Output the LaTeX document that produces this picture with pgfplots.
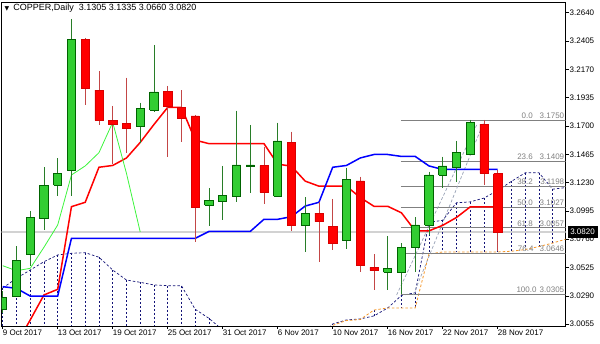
\documentclass[border=0pt]{standalone}
\usepackage{pgfplots}
\pgfplotsset{compat=1.18}
\usepackage{fontspec}
\setmainfont{Liberation Sans}
\newfontfamily\symf{DejaVu Sans}

\definecolor{gfill}{RGB}{50,205,50}
\definecolor{gedge}{RGB}{0,100,0}
\definecolor{gwickc}{RGB}{40,125,40}
\definecolor{rfill}{RGB}{255,0,0}
\definecolor{rwickc}{RGB}{195,70,70}
\definecolor{navyc}{RGB}{20,20,120}
\definecolor{sandy}{RGB}{245,150,40}
\definecolor{fibgray}{RGB}{128,128,128}
\definecolor{pricegray}{RGB}{210,210,210}
\definecolor{chik}{RGB}{60,245,60}
\definecolor{fibdiag}{RGB}{150,160,180}

\pgfplotsset{
  gwick/.style={gwickc, line width=0.9pt},
  rwick/.style={rwickc, line width=0.9pt},
  gbody/.style={fill=gfill, draw=gedge, line width=0.8pt},
  rbody/.style={fill=rfill, draw=rfill!85!black, line width=0.5pt},
  hatch/.style={navyc, line width=0.7pt, dash pattern=on 2pt off 2pt, unbounded coords=jump},
  fibline/.style={fibgray, line width=0.8pt},
}
\tikzset{fiblab/.style={anchor=south east, inner sep=0pt, text=fibgray, font=\fontsize{8}{9}\selectfont, yshift=1.2pt}}

\newcommand{\candle}[6]{%
  \pgfmathsetmacro{\xl}{#1-0.3}%
  \pgfmathsetmacro{\xr}{#1+0.3}%
  \edef\temp{\noexpand\addplot[#6wick] coordinates {(#1,#3) (#1,#4)};%
  \noexpand\addplot[#6body] coordinates {(\xl,#2) (\xr,#2) (\xr,#5) (\xl,#5) (\xl,#2)};}%
  \temp}

\begin{document}
\begin{tikzpicture}[x=1pt,y=1pt]
\path[use as bounding box] (0,0) rectangle (600,343);
\begin{axis}[
  at={(1.5pt,17pt)}, anchor=south west, scale only axis,
  width=564pt, height=324pt,
  xmin=-0.0873, xmax=40.931, ymin=3.00394, ymax=3.27288,
  axis line style={black, line width=0.8pt},
  xtick={0,4,8,12,16,20,24,28,32,36},
  xticklabels={9 Oct 2017,13 Oct 2017,19 Oct 2017,25 Oct 2017,31 Oct 2017,6 Nov 2017,10 Nov 2017,16 Nov 2017,22 Nov 2017,28 Nov 2017},
  xtick pos=left, ytick pos=right, tick align=outside,
  major tick length=3pt, tick style={black, line width=0.6pt},
  ytick={3.0055,3.0290,3.0525,3.0760,3.0995,3.1230,3.1465,3.1700,3.1935,3.2170,3.2405,3.2640},
  yticklabels={3.0055,3.0290,3.0525,3.0760,3.0995,3.1230,3.1465,3.1700,3.1935,3.2170,3.2405,3.2640},
  yticklabel pos=right,
  yticklabel style={anchor=west, inner sep=0pt, xshift=1pt, font=\fontsize{8}{9}\selectfont},
  xticklabel style={anchor=north west, inner sep=0pt, xshift=0pt, yshift=-1pt, font=\fontsize{8}{9}\selectfont},
]
% price line
\addplot[pricegray, line width=1.3pt] coordinates {(-1,3.0820) (42,3.0820)};

% cloud hatching, left part (lower span below the plot)
\addplot[hatch] coordinates {
(0,3.0355) (0,2.95) (0,nan)
(1,3.0435) (1,2.95) (1,nan)
(2,3.0504) (2,2.95) (2,nan)
(3,3.0573) (3,2.95) (3,nan)
(4,3.0629) (4,2.95) (4,nan)
(5,3.0643) (5,2.95) (5,nan)
(6,3.0648) (6,2.95) (6,nan)
(7,3.0610) (7,2.95) (7,nan)
(8,3.0504) (8,2.95) (8,nan)
(9,3.0421) (9,2.95) (9,nan)
(10,3.0402) (10,2.95) (10,nan)
(11,3.0380) (11,2.95) (11,nan)
(12,3.0374) (12,2.95) (12,nan)
(13,3.0374) (13,2.95) (13,nan)
(14,3.0178) (14,2.95) (14,nan)
(15,3.0103) (15,2.95) (15,nan)
};
% cloud hatching, right part
\addplot[hatch] coordinates {
(24,3.0056) (24,3.0045) (24,nan)
(25,3.0090) (25,3.0085) (25,nan)
(26,3.0098) (26,3.0093) (26,nan)
(27,3.0123) (27,3.0172) (27,nan)
(29,3.0293) (29,3.0189) (29,nan)
(30,3.0316) (30,3.0189) (30,nan)
(31,3.0899) (31,3.0637) (31,nan)
(32,3.0917) (32,3.0654) (32,nan)
(33,3.1062) (33,3.0654) (33,nan)
(34,3.1070) (34,3.0654) (34,nan)
(35,3.1101) (35,3.0654) (35,nan)
(36,3.1165) (36,3.0654) (36,nan)
(37,3.1240) (37,3.0660) (37,nan)
(38,3.1311) (38,3.0674) (38,nan)
(39,3.1311) (39,3.0699) (39,nan)
(40,3.1175) (40,3.0728) (40,nan)
(41,3.1189) (41,3.0762) (41,nan)
};
% span lines
\addplot[navyc, line width=0.7pt, dash pattern=on 2.5pt off 2pt] coordinates {
(0,3.0355) (1,3.0435) (2,3.0504) (3,3.0573) (4,3.0629) (5,3.0643) (6,3.0648) (7,3.0610) (8,3.0504) (9,3.0421) (10,3.0402) (11,3.0380) (12,3.0374) (13,3.0374) (14,3.0178) (15,3.0103) (16,3.0006) (17,2.9900)};
\addplot[navyc, line width=0.7pt, dash pattern=on 2.5pt off 2pt] coordinates {
(23,2.9950) (24,3.0056) (25,3.0090) (26,3.0098) (27,3.0123) (28,3.0189) (29,3.0293) (30,3.0316) (31,3.0899) (32,3.0917) (33,3.1062) (34,3.1070) (35,3.1101) (36,3.1165) (37,3.1240) (38,3.1311) (39,3.1311) (40,3.1175) (41,3.1189)};
\addplot[sandy, line width=0.8pt, dash pattern=on 2.5pt off 2pt] coordinates {
(23,2.9950) (24,3.0045) (25,3.0085) (26,3.0093) (27,3.0172) (28,3.0189) (29,3.0189) (30,3.0189) (31,3.0637) (32,3.0654) (33,3.0654) (34,3.0654) (35,3.0654) (36,3.0654) (37,3.0660) (38,3.0674) (39,3.0699) (40,3.0728) (41,3.0762)};

% fibonacci
\addplot[fibline] coordinates {(28.95,3.1750) (42,3.1750)};
\addplot[fibline] coordinates {(28.95,3.1409) (42,3.1409)};
\addplot[fibline] coordinates {(28.95,3.1198) (42,3.1198)};
\addplot[fibline] coordinates {(28.95,3.1027) (42,3.1027)};
\addplot[fibline] coordinates {(28.95,3.0857) (42,3.0857)};
\addplot[fibline] coordinates {(28.95,3.0646) (42,3.0646)};
\addplot[fibline] coordinates {(28.95,3.0305) (42,3.0305)};
\addplot[fibdiag, line width=0.7pt, dash pattern=on 3pt off 2pt] coordinates {(28.65,3.0297) (34.47,3.1708)};
\addplot[fibdiag, line width=0.7pt, dash pattern=on 3pt off 2pt] coordinates {(29.86,3.0297) (34.95,3.1722)};

% tenkan-sen
\addplot[red, line width=1.5pt] coordinates {
(1,2.9890) (2,3.0089) (3,3.0297) (4,3.0344) (5,3.1030) (6,3.1066) (7,3.1357) (8,3.1372) (9,3.1434) (10,3.1563) (11,3.1712) (12,3.1854) (13,3.1854) (14,3.1582) (15,3.1553) (16,3.1553) (17,3.1553) (18,3.1553) (19,3.1553) (20,3.1383) (21,3.1366) (22,3.1242) (23,3.1200) (24,3.1200) (25,3.1200) (26,3.1106) (27,3.1033) (28,3.1033) (29,3.0979) (30,3.0829) (31,3.0829) (32,3.0875) (33,3.0940) (34,3.1028) (35,3.1028) (36,3.1028)};
% kijun-sen
\addplot[blue, line width=1.5pt] coordinates {
(0,3.0366) (1,3.0352) (2,3.0288) (3,3.0288) (4,3.0288) (5,3.0767) (6,3.0767) (7,3.0767) (8,3.0767) (9,3.0767) (10,3.0767) (11,3.0767) (12,3.0767) (13,3.0767) (14,3.0767) (15,3.0824) (16,3.0824) (17,3.0824) (18,3.0824) (19,3.0925) (20,3.0925) (21,3.0947) (22,3.1035) (23,3.1066) (24,3.1357) (25,3.1372) (26,3.1434) (27,3.1463) (28,3.1463) (29,3.1447) (30,3.1447) (31,3.1368) (32,3.1339) (33,3.1339) (34,3.1339) (35,3.1339) (36,3.1339)};
% chikou span
\addplot[chik, line width=0.8pt] coordinates {
(0,3.0540) (1,3.0498) (2,3.0518) (3,3.0693) (4,3.0878) (5,3.1293) (6,3.1368) (7,3.1478) (8,3.1730) (9,3.1307) (10,3.0820)};

% candles: index, open, high, low, close
\candle{0}{3.0178}{3.0330}{3.0150}{3.0278}{g}
\candle{1}{3.0288}{3.0703}{3.0280}{3.0581}{g}
\candle{2}{3.0637}{3.0994}{3.0537}{3.0942}{g}
\candle{3}{3.0930}{3.1357}{3.0836}{3.1207}{g}
\candle{4}{3.1210}{3.1431}{3.1119}{3.1307}{g}
\candle{5}{3.1332}{3.2588}{3.1119}{3.2419}{g}
\candle{6}{3.2419}{3.2430}{3.1874}{3.2013}{r}
\candle{7}{3.1998}{3.2156}{3.1708}{3.1747}{r}
\candle{8}{3.1749}{3.1866}{3.1384}{3.1714}{r}
\candle{9}{3.1722}{3.2101}{3.1475}{3.1680}{r}
\candle{10}{3.1694}{3.1893}{3.1556}{3.1846}{g}
\candle{11}{3.1832}{3.2372}{3.1818}{3.1982}{g}
\candle{12}{3.1990}{3.2032}{3.1440}{3.1860}{r}
\candle{13}{3.1855}{3.1998}{3.1569}{3.1763}{r}
\candle{14}{3.1783}{3.1791}{3.0734}{3.1021}{r}
\candle{15}{3.1041}{3.1182}{3.0872}{3.1085}{g}
\candle{16}{3.1071}{3.1368}{3.0919}{3.1121}{g}
\candle{17}{3.1113}{3.1827}{3.1071}{3.1376}{g}
\candle{18}{3.1362}{3.1708}{3.1141}{3.1376}{g}
\candle{19}{3.1370}{3.1528}{3.1050}{3.1149}{r}
\candle{20}{3.1119}{3.1727}{3.1108}{3.1575}{g}
\candle{21}{3.1564}{3.1652}{3.0830}{3.0872}{r}
\candle{22}{3.0872}{3.1108}{3.0656}{3.0975}{g}
\candle{23}{3.0977}{3.1071}{3.0573}{3.0905}{r}
\candle{24}{3.0869}{3.1094}{3.0670}{3.0728}{r}
\candle{25}{3.0753}{3.1353}{3.0676}{3.1257}{g}
\candle{26}{3.1243}{3.1279}{3.0485}{3.0540}{r}
\candle{27}{3.0527}{3.0637}{3.0338}{3.0498}{r}
\candle{28}{3.0485}{3.0784}{3.0338}{3.0518}{g}
\candle{29}{3.0482}{3.0726}{3.0305}{3.0693}{g}
\candle{30}{3.0693}{3.0942}{3.0490}{3.0878}{g}
\candle{31}{3.0878}{3.1320}{3.0795}{3.1293}{g}
\candle{32}{3.1293}{3.1445}{3.1182}{3.1368}{g}
\candle{33}{3.1357}{3.1575}{3.1237}{3.1478}{g}
\candle{34}{3.1465}{3.1750}{3.1455}{3.1730}{g}
\candle{35}{3.1716}{3.1750}{3.1210}{3.1307}{r}
\candle{36}{3.1305}{3.1335}{3.0660}{3.0820}{r}

% fib labels
\node[fiblab] at (axis cs:40.85,3.1750) {3.1750};
\node[fiblab] at (axis cs:40.85,3.1409) {3.1409};
\node[fiblab] at (axis cs:40.85,3.1198) {3.1198};
\node[fiblab] at (axis cs:40.85,3.1027) {3.1027};
\node[fiblab] at (axis cs:40.85,3.0857) {3.0857};
\node[fiblab] at (axis cs:40.85,3.0646) {3.0646};
\node[fiblab] at (axis cs:40.85,3.0305) {3.0305};
\node[fiblab] at (axis cs:38.57,3.1750) {0.0};
\node[fiblab] at (axis cs:38.57,3.1409) {23.6};
\node[fiblab] at (axis cs:38.57,3.1198) {38.2};
\node[fiblab] at (axis cs:38.57,3.1027) {50.0};
\node[fiblab] at (axis cs:38.57,3.0857) {61.8};
\node[fiblab] at (axis cs:38.62,3.0646) {76.4};
\node[fiblab] at (axis cs:38.84,3.0305) {100.0};
\node[anchor=west, inner sep=0pt, font=\fontsize{9}{10}\selectfont] at (rel axis cs:0,1) [xshift=3pt, yshift=-6.5pt] {{\symf\fontsize{6}{7}\selectfont ▼}\, COPPER,Daily\ \ 3.1305 3.1335 3.0660 3.0820};
\coordinate (pbox) at (axis cs:40.931,3.0820);
\end{axis}
\node[fill=black, text=white, anchor=west, inner sep=0pt, minimum width=30pt, minimum height=11.6pt, font=\fontsize{8}{9}\selectfont] at ([xshift=1.8pt]pbox) {3.0820};
\end{tikzpicture}
\end{document}
